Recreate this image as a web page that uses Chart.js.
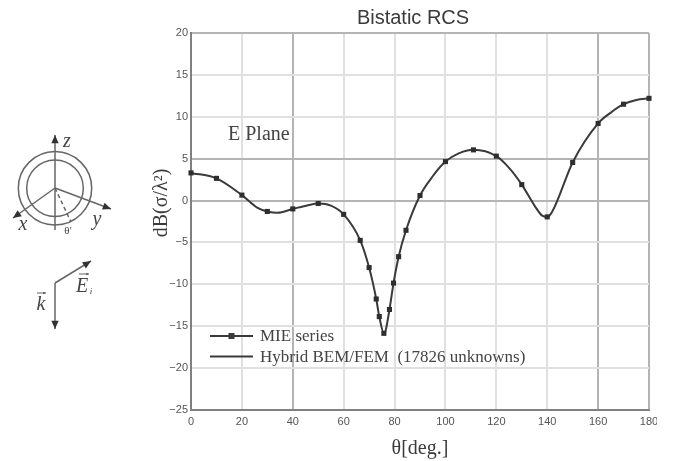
<!DOCTYPE html>
<html><head><meta charset="utf-8">
<script src="https://cdn.jsdelivr.net/npm/chart.js@4"></script>
<style>html,body{margin:0;padding:0;background:#fff}canvas{display:block;filter:blur(0.5px)}</style>
</head><body><canvas id="c" width="657" height="461"></canvas>
<script>
const chartTitle = "Bistatic RCS";
const xTitle = "θ[deg.]";
const yTitle = "dB(σ/λ²)";
const planeLabel = "E Plane";
const seriesNames = ["MIE series", "Hybrid BEM/FEM  (17826 unknowns)"];
const mieTheta = [0,10,20,30,40,50,60,66.5,70,72.8,74,75.8,78,79.6,81.6,84.5,90,100,111,120,130,140,150,160,170,180];
const mieDb = [3.3,2.65,0.65,-1.3,-1.0,-0.35,-1.65,-4.75,-8.0,-11.75,-13.85,-15.85,-13.0,-9.85,-6.7,-3.55,0.6,4.65,6.05,5.3,1.9,-1.95,4.55,9.2,11.5,12.2];
const hybridTheta = [0,10,20,26,30,34,40,46,50,55,60,66.5,70,72.8,74,75.8,76.5,78,79.6,81.6,84.5,90,95,100,105,111,120,125,130,135,138,140,142,150,160,165,170,175,180];
const hybridDb = [3.3,2.65,0.65,-0.85,-1.3,-1.45,-1.0,-0.55,-0.35,-0.6,-1.65,-4.75,-8.0,-11.75,-13.85,-15.85,-15.5,-13.0,-9.85,-6.7,-3.55,0.6,2.9,4.65,5.6,6.05,5.3,3.9,1.9,-0.6,-1.8,-1.95,-1.3,4.55,9.2,10.5,11.5,12.0,12.2];
const xTickValues = [0,20,40,60,80,100,120,140,160,180];
const xDarkGrid = [40,160,180];
const yDarkGrid = [20,5,0,-25];
const ink = "#3a3a3a", axisInk = "#808080", gridLight = "#e0e0e0", gridDark = "#b4b4b4";

function arrow(ctx, x0, y0, x1, y1, size) {
  const a = Math.atan2(y1 - y0, x1 - x0);
  ctx.beginPath(); ctx.moveTo(x0, y0); ctx.lineTo(x1, y1); ctx.stroke();
  ctx.beginPath(); ctx.moveTo(x1, y1);
  ctx.lineTo(x1 - size*Math.cos(a-0.42), y1 - size*Math.sin(a-0.42));
  ctx.lineTo(x1 - size*Math.cos(a+0.42), y1 - size*Math.sin(a+0.42));
  ctx.closePath(); ctx.fill();
}
const decorations = {
  id: "decorations",
  afterLayout(chart) {
    const t = chart.titleBlock;
    t.left += 13.5; t.right += 13.5;
  },
  afterDraw(chart) {
    const ctx = chart.ctx;
    ctx.save();
    // y axis title
    ctx.save();
    ctx.translate(162, 203); ctx.rotate(-Math.PI/2);
    ctx.font = '20px "Liberation Serif"'; ctx.fillStyle = "#3a3a3a";
    ctx.textAlign = "center"; ctx.textBaseline = "middle";
    ctx.fillText(yTitle, 0, 0);
    ctx.restore();
    // in-plot label
    ctx.font = '20px "Liberation Serif"'; ctx.fillStyle = "#444";
    ctx.textAlign = "left"; ctx.textBaseline = "middle";
    ctx.fillText(planeLabel, 228, 135);
    // legend
    ctx.strokeStyle = ink; ctx.lineWidth = 2.2;
    [336, 356.5].forEach((y, i) => {
      ctx.beginPath(); ctx.moveTo(210, y); ctx.lineTo(253, y); ctx.stroke();
      ctx.fillStyle = ink;
      if (i === 0) ctx.fillRect(228.5, y-3, 6, 6);
      ctx.font = '17px "Liberation Serif"'; ctx.fillStyle = "#444";
      ctx.fillText(seriesNames[i], 260, y+1);
    });
    // inset sketch
    ctx.strokeStyle = "#666"; ctx.fillStyle = "#333"; ctx.lineWidth = 1.5;
    ctx.beginPath(); ctx.arc(55, 188.3, 36.7, 0, 2*Math.PI); ctx.stroke();
    ctx.beginPath(); ctx.arc(55, 188.3, 28.3, 0, 2*Math.PI); ctx.stroke();
    arrow(ctx, 55, 230, 55, 135, 9);
    arrow(ctx, 55, 188, 13, 218, 9);
    arrow(ctx, 55, 188, 111, 209, 9);
    ctx.setLineDash([4,3]);
    ctx.beginPath(); ctx.moveTo(55,188); ctx.lineTo(71,222); ctx.stroke();
    ctx.setLineDash([]);
    arrow(ctx, 55, 283, 55, 329, 9);
    arrow(ctx, 55, 283, 91, 261, 9);
    ctx.fillStyle = "#444"; ctx.textAlign = "center"; ctx.textBaseline = "middle";
    ctx.font = 'italic 20px "Liberation Serif"';
    ctx.fillText("z", 67, 142);
    ctx.fillText("x", 23, 225);
    ctx.fillText("y", 97, 220);
    ctx.fillText("k", 41, 305);
    ctx.fillText("E", 82, 287);
    ctx.font = 'italic 9px "Liberation Serif"';
    ctx.fillText("i", 91, 292);
    ctx.font = '11px "Liberation Serif"';
    ctx.fillText("θ'", 68, 231);
    ctx.strokeStyle = "#555"; ctx.lineWidth = 0.9; ctx.fillStyle = "#555";
    arrow(ctx, 37, 293, 46, 293, 3);
    arrow(ctx, 79, 274, 89, 274, 3);
    ctx.restore();
  }
};

new Chart(document.getElementById("c"), {
  type: "scatter",
  data: { datasets: [
    { label: seriesNames[0], data: mieTheta.map((x,i)=>({x, y: mieDb[i]})), showLine: false,
      pointStyle: "rect", pointRadius: 3.6, pointBackgroundColor: "#2e2e2e", pointBorderColor: "#2e2e2e", pointBorderWidth: 0, clip: false },
    { label: seriesNames[1], data: hybridTheta.map((x,i)=>({x, y: hybridDb[i]})), showLine: true,
      cubicInterpolationMode: "monotone", borderColor: ink, borderWidth: 2, pointRadius: 0, clip: false }
  ]},
  options: {
    responsive: false, animation: false, devicePixelRatio: 1,
    layout: { padding: { left: 150, right: 8, top: 0, bottom: 0 } },
    plugins: {
      legend: { display: false }, tooltip: { enabled: false },
      title: { display: true, text: chartTitle, color: "#3a3a3a", fullSize: true,
        font: { family: '"Liberation Sans"', size: 20, weight: "normal" }, padding: { top: 6, bottom: 3 } }
    },
    scales: {
      x: { type: "linear", min: 0, max: 180,
        afterBuildTicks: s => { s.ticks = xTickValues.map(value => ({ value })); },
        afterFit: s => { s.height = 51; s.paddingLeft = 0; s.paddingRight = 0; },
        grid: { drawTicks: false, lineWidth: 2, color: c => xDarkGrid.includes(c.tick && c.tick.value) ? gridDark : gridLight },
        border: { display: true, color: axisInk, width: 2 },
        ticks: { color: "#555", maxRotation: 0, padding: 5, font: { family: '"Liberation Sans"', size: 11 } },
        title: { display: true, text: xTitle, color: "#3a3a3a", padding: { top: 8, bottom: 0 }, font: { family: '"Liberation Serif"', size: 20 } }
      },
      y: { type: "linear", min: -25, max: 20,
        afterFit: s => { s.width = 41; s.paddingTop = 0; s.paddingBottom = 0; },
        grid: { drawTicks: false, lineWidth: 2, color: c => yDarkGrid.includes(c.tick && c.tick.value) ? gridDark : gridLight },
        border: { display: true, color: axisInk, width: 2 },
        ticks: { stepSize: 5, color: "#555", padding: 3, font: { family: '"Liberation Sans"', size: 11 },
          callback: v => String(v).replace("-", "−") }
      }
    }
  },
  plugins: [decorations]
});
</script></body></html>
